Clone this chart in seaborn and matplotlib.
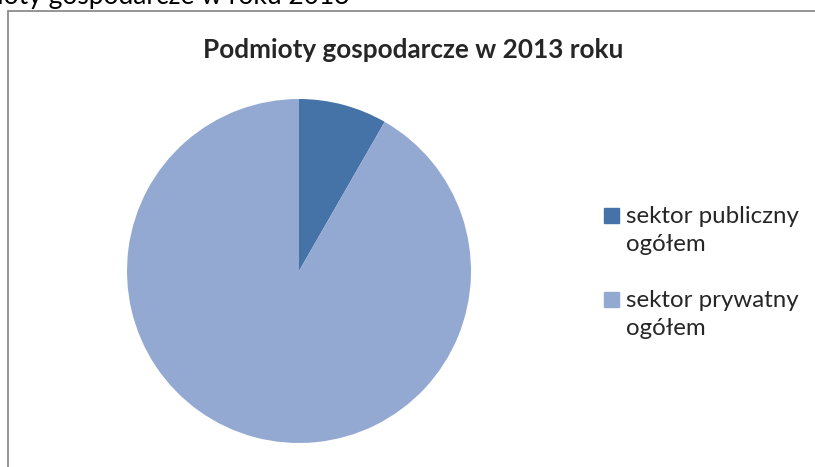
import numpy as np
import pandas as pd
import matplotlib
matplotlib.use("Agg")
import matplotlib.pyplot as plt
import seaborn as sns
from matplotlib.patches import Rectangle

# data (shares)
labels = ["sektor publiczny\nogółem", "sektor prywatny\nogółem"]
shares = [8.3, 91.7]
colors = ["#4573A7", "#94A9D1"]

sns.set_theme(style="white")
plt.rcParams['font.family'] = ['Lato', 'DejaVu Sans']

W, H = 815, 467
fig = plt.figure(figsize=(W / 100, H / 100), dpi=100)

# chart frame, cut off at right and bottom like in the document
fig.patches.append(Rectangle((8/W, -0.1), 1.2, 1 - 11/H + 0.1,
                             transform=fig.transFigure, fill=False,
                             edgecolor="#8c8c8c", linewidth=1.3))

# caption of document text above the chart, partly cut off
fig.text(350/W, 1 - 4/H, "Podmioty gospodarcze w roku 2013", ha="right",
         va="baseline", fontsize=19, color="black")

ax = fig.add_axes([127/W, 24/H, 344/W, 344/H])
wedges, _ = ax.pie(shares, colors=colors, startangle=90, counterclock=False,
                   wedgeprops=dict(linewidth=0))
ax.set_xlim(-1, 1)
ax.set_ylim(-1, 1)
ax.set_aspect("equal")
ax.axis("off")

fig.text(413/W, 1 - 58/H, "Podmioty gospodarcze w 2013 roku",
         ha="center", va="baseline", fontsize=18.8, fontweight="bold")

# legend: square next to first line of each label
for i, (lab, col) in enumerate(zip(labels, colors)):
    top = 208 + i * 84
    fig.patches.append(Rectangle((604/W, 1 - (top + 15)/H), 15/W, 15/H,
                                 transform=fig.transFigure, color=col))
    for j, line in enumerate(lab.split("\n")):
        fig.text(626/W, 1 - (top + 15 + j * 28)/H, line, ha="left",
                 va="baseline", fontsize=17.3)

fig.savefig("out.png", dpi=100)
